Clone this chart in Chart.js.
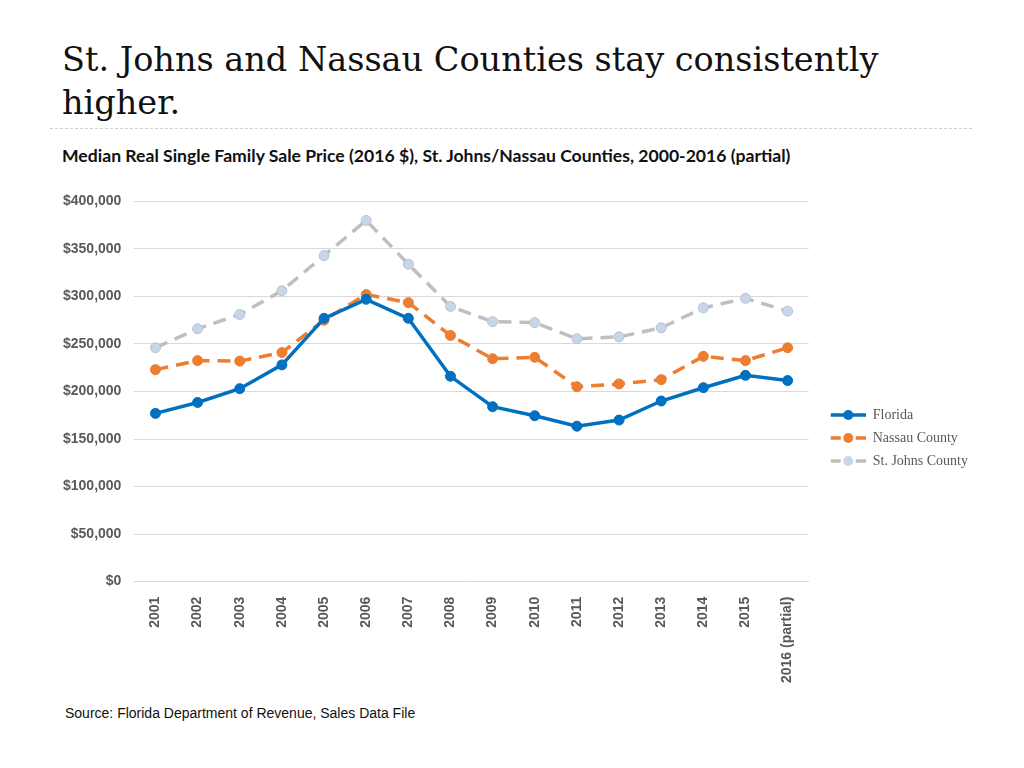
<!DOCTYPE html>
<html><head><meta charset="utf-8">
<script src="https://cdn.jsdelivr.net/npm/chart.js@4.4.1/dist/chart.umd.min.js"></script>
<style>
html,body{margin:0;padding:0;background:#fff;width:1024px;height:768px;overflow:hidden;position:relative}
#title{position:absolute;left:62px;top:38px;font-family:"DejaVu Serif",serif;font-size:33.5px;line-height:43px;color:#111;white-space:nowrap}
#sep{position:absolute;left:50px;top:128px;width:922px;border-top:1px dashed #d0d0d0}
#sub{position:absolute;left:62px;top:145px;font-family:Lato,sans-serif;font-weight:bold;font-size:17.6px;color:#111;white-space:nowrap}
#src{position:absolute;left:65px;top:705px;font-family:"Liberation Sans",Arial,sans-serif;font-size:14px;color:#111}
#wrap{position:absolute;left:50px;top:180px;width:928px;height:510px}
</style></head><body>
<div id="title">St. Johns and Nassau Counties stay consistently<br>higher.</div>
<div id="sep"></div>
<div id="sub">Median Real Single Family Sale Price (2016 $), St. Johns/Nassau Counties, 2000-2016 (partial)</div>
<div id="wrap"><canvas id="c" width="928" height="510"></canvas></div>
<div id="src">Source: Florida Department of Revenue, Sales Data File</div>
<script>
const years = ["2001","2002","2003","2004","2005","2006","2007","2008","2009","2010","2011","2012","2013","2014","2015","2016 (partial)"];
const florida = [177000,188500,203000,228000,277000,297000,277000,216000,184000,174500,163500,170000,190000,204000,217000,211500];
const nassau = [223000,232500,232000,241000,275000,302000,293500,259000,234500,236000,205000,208000,212500,237000,232500,246000];
const stJohns = [246000,266000,281000,306000,343000,380000,334000,289500,273500,272500,255500,257500,267000,288000,298000,284500];
const seriesNames = ["Florida","Nassau County","St. Johns County"];
const yTicks = [0,50000,100000,150000,200000,250000,300000,350000,400000];

const colors = [
  {line:"#0070C0", fill:"#0070C0", border:"#0070C0", dash:[]},
  {line:"#ED7D31", fill:"#ED7D31", border:"#ED7D31", dash:[13,8]},
  {line:"#BFBFBF", fill:"#C9D6E6", border:"#B4C3D6", dash:[13,8]}
];
const LEAD = 13, ICON = 35;
function legendIcon(c){
  const cv=document.createElement('canvas'); cv.width=LEAD+ICON; cv.height=12;
  const x=cv.getContext('2d');
  x.strokeStyle=c.line; x.lineWidth=3.5;
  if(c.dash.length){
    x.beginPath(); x.moveTo(LEAD,6); x.lineTo(LEAD+10,6); x.moveTo(LEAD+25,6); x.lineTo(LEAD+ICON,6); x.stroke();
  } else { x.beginPath(); x.moveTo(LEAD,6); x.lineTo(LEAD+ICON,6); x.stroke(); }
  x.fillStyle=c.fill; x.beginPath(); x.arc(LEAD+ICON/2,6,5,0,Math.PI*2); x.fill();
  return cv;
}
const icons = colors.map(legendIcon);
const dataArr=[florida,nassau,stJohns];
new Chart(document.getElementById('c'),{
  type:'line',
  data:{labels:years,datasets:dataArr.map((d,i)=>({
    label:seriesNames[i],data:d,borderColor:colors[i].line,backgroundColor:colors[i].fill,
    borderDash:colors[i].dash,borderWidth:3.5,pointRadius:5,pointHoverRadius:5,
    pointBackgroundColor:colors[i].fill,pointBorderColor:colors[i].border,pointBorderWidth:1,tension:0,fill:false
  }))},
  options:{
    responsive:false,animation:false,
    layout:{padding:{left:0,right:0,top:0,bottom:0}},
    plugins:{
      tooltip:{enabled:false},
      legend:{position:'right',align:'center',
        title:{display:true,text:' ',font:{size:5},padding:0},
        labels:{usePointStyle:true,pointStyleWidth:LEAD+ICON,boxHeight:12,padding:9,color:"#595959",
          font:{family:"'Liberation Serif','DejaVu Serif',serif",size:14},
          generateLabels:(chart)=>chart.data.datasets.map((ds,i)=>({text:ds.label,pointStyle:icons[i],fillStyle:'transparent',strokeStyle:'transparent',lineWidth:0,datasetIndex:i,hidden:false,fontColor:"#595959"}))
        }}
    },
    scales:{
      x:{offset:true,grid:{display:false},border:{color:"#D9D9D9",width:1},
        ticks:{maxRotation:90,minRotation:90,color:"#595959",font:{family:"'Liberation Sans',Arial,sans-serif",size:14,weight:'bold'},padding:7}},
      y:{min:0,max:400000,afterBuildTicks:(ax)=>{ax.ticks=yTicks.map(v=>({value:v}));},
        grid:{color:"#D9D9D9",lineWidth:1,drawTicks:false},border:{display:false},
        ticks:{color:"#595959",padding:13,font:{family:"'Liberation Sans',Arial,sans-serif",size:14,weight:'bold'},
          callback:(v)=>'$'+v.toLocaleString('en-US')}}
    }
  }
});
</script>
</body></html>
